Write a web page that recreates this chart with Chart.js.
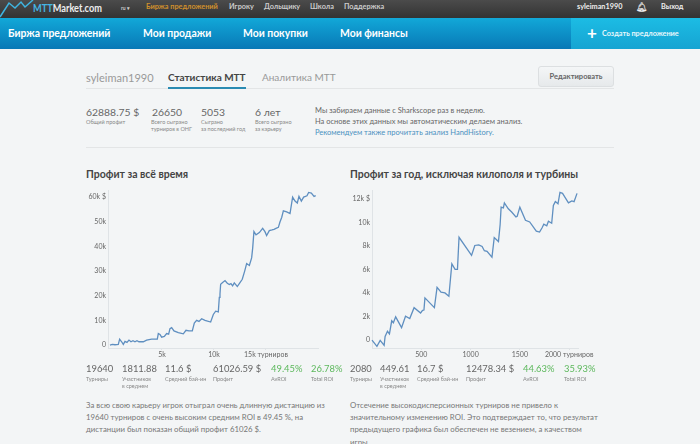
<!DOCTYPE html>
<html>
<head>
<meta charset="utf-8">
<script src="https://cdn.jsdelivr.net/npm/chart.js@4"></script>
<style>
html, body { margin: 0; padding: 0; }
body { width: 700px; height: 444px; overflow: hidden; background: #f3f5f6; font-family: Lato, sans-serif; color: #555; position: relative; }
.t { position: absolute; white-space: nowrap; line-height: 1; }
.top { top: 3px; font-size: 7.3px; font-weight: bold; color: #ccc; }
.nav { top: 28px; font-size: 10.4px; font-weight: bold; color: #fff; }
.tab { top: 72px; font-size: 11px; color: #999; }
.num { font-size: 10.4px; color: #666; }
.numb { font-size: 9.4px; color: #666; }
.lbl { font-size: 5.5px; color: #888; line-height: 7px; }
.info { left: 315px; font-size: 7.5px; color: #666; }
.h { top: 169px; font-size: 10.5px; font-weight: bold; color: #444; }
.g { color: #5cb85c; }
.p { top: 399px; font-size: 7.8px; line-height: 12.2px; color: #777; }
.hr { position: absolute; left: 86px; width: 528px; height: 1px; background: #e3e5e6; }
canvas { position: absolute; }
</style>
</head>
<body>
<div style="position:absolute;left:0;top:0;width:700px;height:18px;background:linear-gradient(#4b4b4b,#333)"></div>
<div style="position:absolute;left:0;top:18px;width:700px;height:31px;background:linear-gradient(#12a8d8,#0878b6)"></div>
<div style="position:absolute;left:571px;top:18px;width:129px;height:31px;background:linear-gradient(#1cbce4,#16a4d2)"></div>
<svg style="position:absolute;left:0;top:0" width="36" height="18"><polyline points="0,17 9,3 15,8 21,2 25,7 33,0" fill="none" stroke="#3fb4e0" stroke-width="1.5"/></svg>
<div class="t" style="left:33px;top:2px;font-size:11.5px;font-weight:bold;color:#eee;transform:scaleX(.8);transform-origin:left"><span style="color:#45b6e4">MTT</span>Market.com</div>
<div class="t top" style="left:121px;font-size:5px;top:6px">ru ▾</div>
<div class="t top" style="left:146px;color:#d0902c">Биржа предложений</div>
<div class="t top" style="left:229px">Игроку</div>
<div class="t top" style="left:264px">Дольщику</div>
<div class="t top" style="left:310px">Школа</div>
<div class="t top" style="left:344px">Поддержка</div>
<div class="t top" style="left:577px;color:#eee">syleiman1990</div>
<div class="t top" style="left:636px;font-size:9px;top:2px;color:#eee">🔔︎</div>
<div class="t top" style="left:661px;color:#eee">Выход</div>

<div class="t nav" style="left:8px">Биржа предложений</div>
<div class="t nav" style="left:143px">Мои продажи</div>
<div class="t nav" style="left:243px">Мои покупки</div>
<div class="t nav" style="left:340px">Мои финансы</div>
<div class="t" style="left:587px;top:24px;font-size:17px;font-weight:bold;color:#fff">+</div>
<div class="t" style="left:602px;top:30px;font-size:7.3px;font-weight:bold;color:#e6f7fc">Создать предложение</div>

<div class="t tab" style="left:86px">syleiman1990</div>
<div class="t tab" style="left:168px;font-weight:bold;color:#444;font-size:10px">Статистика МТТ</div>
<div class="t tab" style="left:262px;font-size:10px">Аналитика МТТ</div>
<div class="hr" style="top:88px"></div>
<div style="position:absolute;left:168px;top:87px;width:78px;height:2px;background:#2a8bb2"></div>
<div class="t" style="left:538px;top:66px;width:74px;height:19px;line-height:19px;text-align:center;font-size:7.5px;font-weight:bold;color:#666;background:linear-gradient(#f4f6f7,#e6e9eb);border:1px solid #dcdfe1;border-radius:3px">Редактировать</div>

<div class="t num" style="left:86px;top:107px">62888.75 $</div>
<div class="t lbl" style="left:86px;top:119px">Общий профит</div>
<div class="t num" style="left:152px;top:107px">26650</div>
<div class="t lbl" style="left:151px;top:119px">Всего сыграно<br>турниров в ОНГ</div>
<div class="t num" style="left:201px;top:107px">5053</div>
<div class="t lbl" style="left:201px;top:119px">Сыграно<br>за последний год</div>
<div class="t num" style="left:255px;top:107px">6 лет</div>
<div class="t lbl" style="left:255px;top:119px">Всего сыграно<br>за карьеру</div>
<div class="t info" style="top:107px">Мы забираем данные с Sharkscope раз в неделю.</div>
<div class="t info" style="top:118px">На основе этих данных мы автоматическим делаем анализ.</div>
<div class="t info" style="top:129px;color:#4a90c0">Рекомендуем также прочитать анализ HandHistory.</div>
<div class="hr" style="top:147px"></div>

<div class="t h" style="left:86px">Профит за всё время</div>
<div class="t h" style="left:350px">Профит за год, исключая килополя и турбины</div>

<canvas id="allTimeChart" width="250" height="181" style="left:80px;top:184px"></canvas>
<canvas id="yearChart" width="250" height="181" style="left:345px;top:184px"></canvas>

<div class="t numb" style="left:86px;top:364px">19640</div>
<div class="t lbl" style="left:86px;top:376px">Турниры</div>
<div class="t numb" style="left:122px;top:364px">1811.88</div>
<div class="t lbl" style="left:122px;top:376px">Участников<br>в среднем</div>
<div class="t numb" style="left:165px;top:364px">11.6 $</div>
<div class="t lbl" style="left:165px;top:376px">Средний бай-ин</div>
<div class="t numb" style="left:213px;top:364px">61026.59 $</div>
<div class="t lbl" style="left:213px;top:376px">Профит</div>
<div class="t numb g" style="left:271px;top:364px">49.45%</div>
<div class="t lbl" style="left:271px;top:376px">AvROI</div>
<div class="t numb g" style="left:311px;top:364px">26.78%</div>
<div class="t lbl" style="left:311px;top:376px">Total ROI</div>

<div class="t numb" style="left:350px;top:364px">2080</div>
<div class="t lbl" style="left:350px;top:376px">Турниры</div>
<div class="t numb" style="left:380px;top:364px">449.61</div>
<div class="t lbl" style="left:380px;top:376px">Участников<br>в среднем</div>
<div class="t numb" style="left:417px;top:364px">16.7 $</div>
<div class="t lbl" style="left:417px;top:376px">Средний бай-ин</div>
<div class="t numb" style="left:466px;top:364px">12478.34 $</div>
<div class="t lbl" style="left:466px;top:376px">Профит</div>
<div class="t numb g" style="left:523px;top:364px">44.63%</div>
<div class="t lbl" style="left:523px;top:376px">AvROI</div>
<div class="t numb g" style="left:564px;top:364px">35.93%</div>
<div class="t lbl" style="left:564px;top:376px">Total ROI</div>

<div class="t p" style="left:86px">За всю свою карьеру игрок отыграл очень длинную дистанцию из<br>19640 турниров с очень высоким средним ROI в 49.45 %, на<br>дистанции был показан общий профит 61026 $.</div>
<div class="t p" style="left:350px">Отсечение высокодисперсионных турниров не привело к<br>значительному изменению ROI. Это подтверждает то, что результат<br>предыдущего графика был обеспечен не везением, а качеством<br>игры.</div>

<script>
const allTimeTournaments = [0,224,480,801,929,1121,1282,1442,1634,1827,2019,2211,2403,2596,2788,3205,3525,4006,4551,4647,4807,4967,5224,5448,5640,5769,5929,6153,6570,7050,7307,7595,7916,8108,8333,8557,8814,9134,9680,9936,10160,10416,10512,10576,10640,10830,11060,11280,11470,11630,11790,11950,12240,12500,12720,12950,13140,13400,13620,13720,13840,14040,14360,14680,14900,15060,15320,15580,15770,15960,16190,16350,16510,16670,16990,17310,17560,17790,18010,18170,18400,18620,18940,19100,19360,19620,19780];
const allTimeProfit = [0,270,130,270,2400,1330,270,1470,1070,2000,1330,1730,1330,1730,1330,1330,2000,2400,2400,4670,4270,3200,3470,4670,4400,6670,7070,5730,5070,4530,6000,5730,5730,8930,10000,9600,10670,10000,9330,12400,13730,13470,19330,20670,24670,25330,26130,25070,24530,24930,24000,25200,23730,25330,26670,30000,33070,32270,35330,39330,46000,44670,45600,47330,46000,44400,46400,46670,46930,47330,47730,50000,51730,54400,54000,53330,60000,58400,57600,60270,58400,60000,60530,61870,61600,60270,60600];
const allTimeXTicks = [5000,10000,15000];
const allTimeXLabels = ['5k','10k','15k турниров'];
const allTimeYTicks = [0,10000,20000,30000,40000,50000,60000];
const allTimeYLabels = ['0','10k','20k','30k','40k','50k','60k $'];

const yearTournaments = [0,50,83,123,133,157,177,200,217,240,300,340,383,427,493,513,527,537,633,660,700,740,780,810,843,867,883,1010,1043,1083,1117,1140,1167,1217,1240,1283,1300,1310,1333,1343,1383,1417,1460,1473,1500,1557,1600,1667,1700,1727,1743,1773,1790,1823,1840,1860,1887,1907,1933,1993,2027,2050,2080];
const yearProfit = [0,-530,-30,-445,306,750,530,1640,1475,1980,1060,2030,1840,2760,2310,2530,2560,3590,2760,4480,4070,4010,3730,6490,6020,6020,8745,7210,8050,8100,7965,7600,7550,7050,8720,8380,9830,11310,11250,11670,11170,10890,10470,10530,11310,10190,10050,9270,9190,9580,9860,9720,10110,9940,11450,11780,11590,12560,12480,11670,11840,11780,12480];
const yearXTicks = [500,1000,1500,2000];
const yearXLabels = ['500','1000','1500','2000 турниров'];
const yearYTicks = [0,2000,4000,6000,8000,10000,12000];
const yearYLabels = ['0','2k','4k','6k','8k','10k','12k $'];

function drawProfitChart(id, xs, ys, opts) {
    const ctx = document.getElementById(id).getContext('2d');
    new Chart(ctx, {
        type: 'line',
        data: {
            datasets: [{
                data: xs.map((x, i) => ({ x, y: ys[i] })),
                borderColor: '#5f8fc0',
                borderWidth: 1.3,
                pointRadius: 0,
                tension: 0,
                clip: false
            }]
        },
        options: {
            responsive: false,
            animation: false,
            layout: { padding: { top: 4, right: opts.right } },
            plugins: { legend: { display: false }, tooltip: { enabled: false } },
            scales: {
                x: {
                    type: 'linear',
                    min: opts.xMin,
                    max: opts.xMax,
                    afterBuildTicks: axis => { axis.ticks = opts.xTicks.map(value => ({ value })); },
                    afterFit: axis => { axis.height = 17; },
                    grid: { drawOnChartArea: false, tickLength: 2, color: '#dfe3e6' },
                    border: { color: '#dfe3e6' },
                    ticks: {
                        autoSkip: false, maxRotation: 0, padding: 1,
                        color: '#666', font: { family: 'Lato', size: 7 },
                        callback: v => opts.xLabels[opts.xTicks.indexOf(v)]
                    }
                },
                y: {
                    min: opts.yMin,
                    max: opts.yMax,
                    afterBuildTicks: axis => { axis.ticks = opts.yTicks.map(value => ({ value })); },
                    afterFit: axis => { axis.width = opts.yWidth; },
                    grid: { drawOnChartArea: false, tickLength: 0 },
                    border: { color: '#dfe3e6' },
                    ticks: {
                        autoSkip: false, padding: 2,
                        color: '#666', font: { family: 'Lato', size: 7 },
                        callback: v => opts.yLabels[opts.yTicks.indexOf(v)]
                    }
                }
            }
        }
    });
}

drawProfitChart('allTimeChart', allTimeTournaments, allTimeProfit, {
    xMin: -190, xMax: 20000, yMin: -1200, yMax: 62800, yWidth: 28, right: 12,
    xTicks: allTimeXTicks, xLabels: allTimeXLabels, yTicks: allTimeYTicks, yLabels: allTimeYLabels
});
drawProfitChart('yearChart', yearTournaments, yearProfit, {
    xMin: 0, xMax: 2090, yMin: -671, yMax: 12750, yWidth: 27, right: 15,
    xTicks: yearXTicks, xLabels: yearXLabels, yTicks: yearYTicks, yLabels: yearYLabels
});
</script>
</body>
</html>
